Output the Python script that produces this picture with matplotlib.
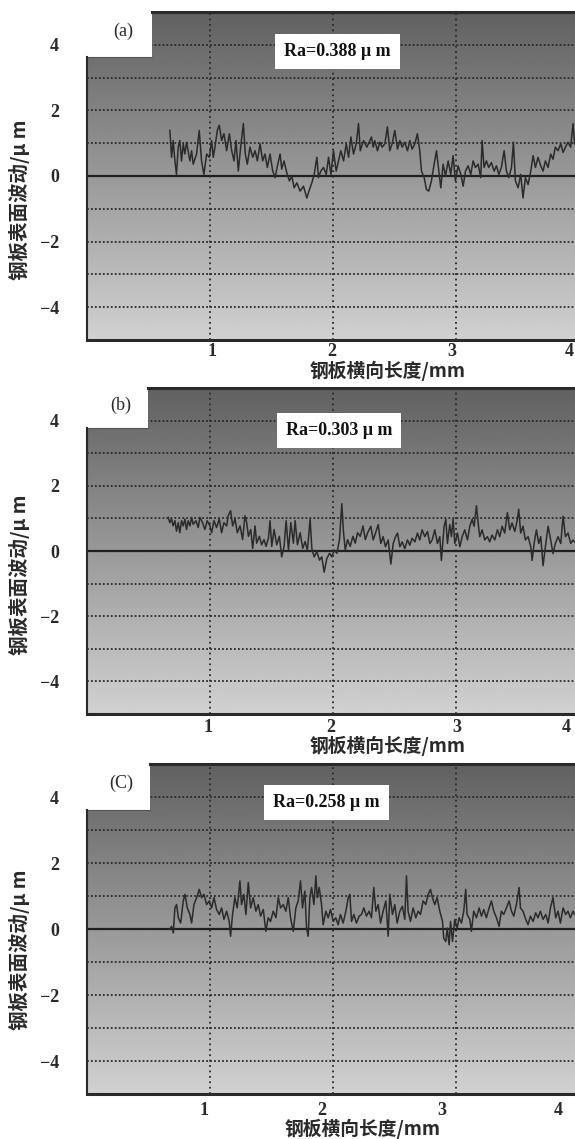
import numpy as np
import matplotlib
matplotlib.use("Agg")
import matplotlib.pyplot as plt
from matplotlib.patches import Rectangle

# ---------------- data (x in mm, y in µm) ----------------
xa = [0.674, 0.688, 0.701, 0.715, 0.728, 0.742, 0.755, 0.769, 0.783, 0.796, 0.810, 0.837, 0.851, 0.864,
      0.891, 0.913, 0.932, 0.951, 0.973, 0.995, 1.014, 1.027, 1.041, 1.060, 1.076, 1.095, 1.114, 1.136,
      1.158, 1.177, 1.196, 1.212, 1.231, 1.250, 1.272, 1.288, 1.304, 1.326, 1.348, 1.367, 1.386, 1.408,
      1.429, 1.448, 1.467, 1.489, 1.511, 1.530, 1.549, 1.571, 1.584, 1.603, 1.625, 1.647, 1.666, 1.685,
      1.707, 1.734, 1.761, 1.788, 1.810, 1.829, 1.848, 1.870, 1.883, 1.902, 1.924, 1.946, 1.965, 1.984,
      2.005, 2.027, 2.046, 2.065, 2.087, 2.109, 2.128, 2.147, 2.168, 2.190, 2.209, 2.223, 2.250, 2.277,
      2.314, 2.328, 2.341, 2.363, 2.382, 2.401, 2.423, 2.444, 2.463, 2.482, 2.504, 2.526, 2.545, 2.564,
      2.585, 2.607, 2.626, 2.645, 2.667, 2.688, 2.707, 2.721, 2.743, 2.761, 2.780, 2.802, 2.824, 2.843,
      2.862, 2.878, 2.897, 2.916, 2.938, 2.959, 2.978, 2.997, 3.019, 3.041, 3.060, 3.079, 3.100, 3.122,
      3.141, 3.160, 3.182, 3.203, 3.214, 3.230, 3.249, 3.268, 3.290, 3.312, 3.331, 3.350, 3.371, 3.393,
      3.412, 3.431, 3.453, 3.469, 3.485, 3.507, 3.528, 3.547, 3.566, 3.588, 3.610, 3.629, 3.648, 3.669,
      3.691, 3.710, 3.729, 3.751, 3.772, 3.791, 3.810, 3.832, 3.854, 3.873, 3.892, 3.913, 3.935, 3.954,
      3.967]
ya = [1.39, 0.57, 1.08, 0.46, 0.05, 0.88, 1.08, 0.46, 0.98, 0.67, 1.03, 0.46, 0.77, 0.36,
      0.67, 1.39, 0.46, 0.05, 0.67, 0.57, 1.08, 0.57, 0.88, 1.39, 1.55, 1.08, 1.29, 0.77,
      1.29, 0.77, 0.46, 1.08, 0.15, 0.88, 1.60, 0.67, 0.36, 0.88, 0.57, 0.77, 0.46, 0.98,
      0.46, 0.67, 0.26, 0.67, 0.15, -0.05, 0.31, 0.67, 0.21, 0.46, 0.10, -0.15, 0.00, -0.36,
      -0.21, -0.46, -0.31, -0.67, -0.41, -0.21, 0.05, 0.57, -0.05, 0.15, 0.26, 0.05, 0.57, 0.05,
      0.77, 0.15, 0.46, 0.77, 0.46, 0.98, 0.57, 1.19, 0.67, 0.98, 1.60, 0.77, 1.08, 0.88,
      1.19, 0.88, 1.08, 0.77, 1.03, 0.88, 0.98, 1.50, 0.77, 0.98, 1.39, 0.82, 1.08, 0.88,
      1.03, 0.77, 1.08, 0.82, 0.98, 1.29, 0.77, 0.15, -0.05, -0.41, -0.46, -0.15, 0.36, 0.77,
      0.15, -0.36, 0.36, 0.00, 0.46, 0.05, 0.62, -0.15, 0.31, 0.05, -0.31, 0.15, 0.31, 0.05,
      0.46, 0.26, 0.36, -0.05, 1.08, 0.26, 0.46, 0.26, 0.41, 0.15, 0.31, 0.05, 0.26, 0.77,
      0.15, -0.05, 0.26, 1.03, -0.15, -0.36, 0.05, -0.67, -0.05, -0.26, 0.15, 0.62, 0.26, 0.57,
      0.31, 0.15, 0.46, 0.26, 0.67, 0.51, 0.88, 0.77, 0.98, 0.72, 0.88, 1.03, 0.88, 1.60,
      0.98]

xb = [0.660, 0.674, 0.688, 0.701, 0.715, 0.728, 0.742, 0.755, 0.769, 0.783, 0.796, 0.810, 0.823, 0.837,
      0.851, 0.864, 0.886, 0.905, 0.918, 0.940, 0.959, 0.978, 1.000, 1.014, 1.033, 1.054, 1.076, 1.095,
      1.114, 1.136, 1.149, 1.168, 1.185, 1.204, 1.223, 1.245, 1.266, 1.285, 1.299, 1.313, 1.332, 1.348,
      1.367, 1.380, 1.402, 1.421, 1.440, 1.457, 1.476, 1.489, 1.503, 1.522, 1.543, 1.565, 1.584, 1.603,
      1.620, 1.639, 1.658, 1.679, 1.693, 1.712, 1.734, 1.755, 1.774, 1.793, 1.815, 1.829, 1.848, 1.870,
      1.891, 1.910, 1.929, 1.951, 1.973, 1.992, 2.011, 2.033, 2.054, 2.073, 2.087, 2.101, 2.120, 2.141,
      2.163, 2.182, 2.201, 2.223, 2.245, 2.264, 2.283,
      2.309, 2.328, 2.347, 2.369, 2.390, 2.409, 2.428, 2.450, 2.472, 2.491, 2.510, 2.526, 2.545, 2.564,
      2.585, 2.607, 2.626, 2.645, 2.667, 2.688, 2.707, 2.726, 2.748, 2.770, 2.789, 2.808, 2.829, 2.851,
      2.870, 2.883, 2.905, 2.919, 2.932, 2.951, 2.965, 2.978, 2.992, 3.014, 3.033, 3.052, 3.073, 3.095,
      3.114, 3.133, 3.149, 3.168, 3.182, 3.195, 3.214, 3.236, 3.257, 3.276, 3.295, 3.317, 3.339, 3.358,
      3.377, 3.398, 3.420, 3.439, 3.458, 3.480, 3.501, 3.512, 3.528, 3.547, 3.566, 3.588, 3.610, 3.621,
      3.637, 3.656, 3.675, 3.691, 3.710, 3.729, 3.751, 3.772, 3.791, 3.810, 3.832, 3.854, 3.873, 3.892,
      3.913, 3.935, 3.954, 3.967]
yb = [1.03, 0.87, 0.98, 0.77, 0.93, 0.61, 0.87, 0.56, 0.93, 0.77, 0.98, 0.66, 0.93, 0.77,
      1.03, 0.82, 0.93, 0.72, 1.03, 0.87, 0.66, 0.93, 0.77, 0.56, 0.93, 0.72, 0.98, 0.56,
      0.87, 0.77, 1.08, 1.24, 0.77, 0.98, 0.56, 0.77, 0.35, 1.08, 0.87, 0.45, 0.66, 0.08,
      0.77, 0.24, 0.45, 0.19, 0.35, 0.14, 0.40, 0.93, 0.14, 0.66, 0.19, 0.45, -0.18, 0.14,
      0.93, 0.03, 0.87, 0.24, 0.93, 0.19, 0.56, 0.08, 0.29, 0.03, 0.98, 0.08, -0.18, -0.02,
      -0.28, -0.18, -0.65, -0.23, -0.07, -0.18, 0.03, -0.07, 0.35, 1.45, 0.56, 0.03, 0.35, 0.14,
      0.45, 0.24, 0.56, 0.45, 0.77, 0.35, 0.56,
      0.76, 0.34, 0.55, 0.81, 0.23, 0.44, 0.13, 0.34, -0.40, 0.23, 0.44, 0.55, 0.13, 0.28,
      0.07, 0.34, 0.18, 0.39, 0.28, 0.55, 0.34, 0.65, 0.44, 0.60, 0.23, 0.34, 0.65, 0.23,
      0.44, -0.29, 0.76, 0.97, 0.23, 0.81, 0.44, 0.97, 0.23, 0.55, 0.13, 0.44, 0.65, 0.34,
      0.76, 0.97, 0.76, 1.39, 0.86, 0.44, 0.65, 0.34, 0.44, 0.28, 0.49, 0.34, 0.65, 0.44,
      0.76, 0.55, 1.18, 0.65, 0.86, 0.60, 0.97, 1.28, 0.55, 0.76, 0.34, 0.44, 0.13, -0.29,
      0.23, 0.65, 0.23, 0.44, -0.45, 0.13, 0.76, 0.34, -0.08, 0.23, 0.44, 0.23, 1.07, 0.44,
      0.55, 0.23, 0.34, 0.28]

xc = [0.675, 0.688, 0.702, 0.715, 0.729, 0.743, 0.762, 0.783, 0.797, 0.816, 0.837, 0.851, 0.870, 0.892,
      0.913, 0.932, 0.951, 0.973, 0.995, 1.014, 1.033, 1.054, 1.076, 1.095, 1.114, 1.136, 1.157, 1.168,
      1.184, 1.203, 1.222, 1.244, 1.257, 1.276, 1.293, 1.312, 1.331, 1.352, 1.374, 1.393, 1.412, 1.434,
      1.455, 1.474, 1.493, 1.515, 1.537, 1.556, 1.575, 1.596, 1.618, 1.637, 1.656, 1.678, 1.699, 1.718,
      1.737, 1.753, 1.772, 1.786, 1.799, 1.813, 1.827, 1.846, 1.862, 1.873, 1.889, 1.908, 1.921, 1.943,
      1.962, 1.981, 2.003, 2.024, 2.043, 2.062, 2.084, 2.106, 2.125, 2.138, 2.152, 2.171, 2.192, 2.214,
      2.233, 2.252, 2.274, 2.295, 2.314, 2.333, 2.350, 2.369, 2.388, 2.409, 2.431, 2.450, 2.463, 2.485,
      2.504, 2.523, 2.545, 2.566, 2.585, 2.599, 2.612, 2.631, 2.653, 2.675, 2.694, 2.713, 2.734, 2.756,
      2.775, 2.794, 2.810, 2.829, 2.848, 2.870, 2.892, 2.902, 2.919, 2.930, 2.946, 2.957, 2.973, 2.992,
      3.011, 3.027, 3.046, 3.065, 3.081, 3.092, 3.114, 3.127, 3.146, 3.168, 3.190, 3.209, 3.228, 3.249,
      3.271, 3.290, 3.309, 3.331, 3.352, 3.371, 3.390, 3.412, 3.434, 3.453, 3.472, 3.493, 3.515, 3.526,
      3.547, 3.569, 3.588, 3.607, 3.629, 3.650, 3.669, 3.688, 3.710, 3.732, 3.751, 3.770, 3.791, 3.813,
      3.832, 3.851, 3.873, 3.894, 3.913, 3.932, 3.954, 3.967]
yc = [0.00, 0.08, -0.12, 0.64, 0.74, 0.34, 0.18, 0.85, 1.05, 0.64, 0.44, 0.18, 0.74, 0.95,
      1.20, 0.95, 1.05, 0.74, 0.85, 0.64, 0.95, 0.59, 0.44, 0.64, 0.29, 0.54, 0.23, -0.22,
      0.44, 0.95, 0.64, 1.46, 0.74, 1.05, 0.44, 1.41, 0.64, 0.95, 0.54, 0.74, 0.39, 0.59,
      -0.07, 0.34, 0.23, 0.54, 0.34, 0.95, 0.64, 0.74, 0.54, 0.95, 0.34, -0.07, 0.64, 0.85,
      1.46, 0.64, 1.15, 0.03, -0.22, 0.95, 1.26, 0.74, 1.61, 0.95, 1.26, 0.74, 0.13, 0.54,
      0.34, 0.59, 0.23, 0.34, 0.13, 0.44, 0.18, 0.54, 0.95, 1.05, 0.23, 0.44, 0.18, 0.39,
      0.44, 0.64, 0.39, 0.54, 0.34, 1.26, 0.54, 0.74, 0.18, 0.54, 0.85, -0.22, 1.05, 0.44,
      0.74, 0.18, 0.54, 0.69, 0.29, 1.61, 0.54, 0.23, 0.64, 0.34, 0.54, 0.44, 0.85, 0.74,
      1.05, 1.20, 0.95, 0.74, 0.95, 0.54, 0.23, -0.28, -0.38, 0.03, -0.48, 0.23, -0.38, 0.29,
      0.03, 0.34, 0.18, 0.54, 1.20, 0.44, 0.29, -0.07, 0.54, 0.34, 0.64, 0.39, 0.59, 0.34,
      0.64, 0.85, 0.54, 0.34, 0.08, 0.54, 0.44, 0.64, 0.85, 0.54, 0.39, 0.74, 1.26, 0.64,
      0.54, 0.29, 0.13, 0.39, 0.23, 0.49, 0.34, 0.54, 0.29, 0.44, 0.18, 0.64, 0.95, 0.34,
      0.54, 0.18, 0.64, 0.44, 0.54, 0.34, 0.54, 0.44]

panel_tags = ["(a)", "(b)", "(C)"]
ra_texts = ["Ra=0.388 μ m", "Ra=0.303 μ m", "Ra=0.258 μ m"]
xtick_vals = [1, 2, 3, 4]
ytick_vals = [4, 2, 0, -2, -4]
ytick_labels = ["4", "2", "0", "−2", "−4"]
xlabel_text = "钢板横向长度/mm"
ylabel_text = "钢板表面波动/μ m"

series = [(xa, ya), (xb, yb), (xc, yc)]

# ---------------- layout ----------------
W, H = 575, 1139
fig = plt.figure(figsize=(W / 100, H / 100), dpi=100)
fig.patch.set_facecolor("white")

XMAX = 4.1
left_px = 87
width_px = 504
rows = [(12, 340), (388, 714), (764, 1094)]
notch = [(0.53, 3.63), (0.50, 3.76), (0.51, 3.60)]
ra_pos = [(2.04, 3.80), (2.05, 3.70), (1.95, 3.82)]
xlabel_x = [388, 388, 363]
xlabel_dy = [31, 32, 35]
ylabel_cy = [200, 575, 950]
# horizontal shift (px) of each x tick label, as printed in the scanned figure
xlab_shift = [[2, -1, -4, -9], [-2, -2, 1, -12], [-6, -11, -14, -20]]
xlab_drop = [2.5, 3.5, 6.0]

cjk = ["Noto Sans CJK SC", "DejaVu Sans"]
serif = ["Liberation Serif", "DejaVu Serif"]
ink = "#2a2a2a"

for i, (top, bot) in enumerate(rows):
    ax = fig.add_axes([left_px / W, 1 - bot / H, width_px / W, (bot - top) / H])

    # gradient background: dark at top, light at bottom
    grad = np.linspace(0.38, 0.82, 256).reshape(-1, 1)
    ax.imshow(grad, extent=[0, XMAX, -5, 5], origin="upper", aspect="auto",
              cmap="gray", vmin=0, vmax=1, zorder=0, interpolation="bilinear")
    ax.set_xlim(0, XMAX)
    ax.set_ylim(-5, 5)

    # grid
    for gy in [-4, -3, -2, -1, 1, 2, 3, 4]:
        ax.axhline(gy, color="#2a2a2a", lw=1.3, ls=(0, (1, 1.2)), zorder=1)
    for gx in [1, 2, 3]:
        ax.axvline(gx, color="#2a2a2a", lw=1.3, ls=(0, (1, 2)), zorder=1)
    ax.axhline(0, color="#202020", lw=1.6, zorder=2)

    # data
    x, y = series[i]
    ax.plot(x, y, color="#2b2b2b", lw=1.1, zorder=3)

    # white notch at top-left
    nx, ny = notch[i]
    ax.add_patch(Rectangle((-0.01, ny), nx + 0.01, 5.5 - ny, facecolor="white",
                           edgecolor="none", zorder=4, clip_on=False))
    ax.plot([0, nx], [ny, ny], color="#555555", lw=0.8, zorder=5, clip_on=False)

    # spines
    ax.spines["right"].set_visible(False)
    ax.spines["left"].set_bounds(-5, ny)
    ax.spines["left"].set_linewidth(1.5)
    ax.spines["left"].set_color(ink)
    ax.spines["top"].set_bounds(nx, XMAX)
    ax.spines["top"].set_linewidth(2.2)
    ax.spines["top"].set_color(ink)
    ax.spines["bottom"].set_linewidth(2.2)
    ax.spines["bottom"].set_color(ink)
    for s in ax.spines.values():
        s.set_zorder(6)

    # ticks: x labels drawn as annotations at the tick positions
    ax.set_xticks(xtick_vals)
    ax.set_xticklabels([""] * len(xtick_vals))
    for k, v in enumerate(xtick_vals):
        ax.annotate(str(v), xy=(v, 0), xycoords=("data", "axes fraction"),
                    xytext=(xlab_shift[i][k] * 0.72, -xlab_drop[i]),
                    textcoords="offset points", ha="center", va="top",
                    fontfamily=serif, fontsize=13, fontweight="bold", color=ink,
                    annotation_clip=False)
    ax.set_yticks(ytick_vals)
    ax.set_yticklabels(ytick_labels, fontfamily=serif, fontsize=13,
                       fontweight="bold", color=ink)
    ax.tick_params(axis="both", length=0)
    ax.tick_params(axis="y", pad=20)

    # panel tag
    ax.text(nx * 0.55, (ny + 5) / 2 + 0.1, panel_tags[i], fontfamily=serif,
            fontsize=13, color=ink, ha="center", va="center", zorder=7)

    # Ra box
    rx, ry = ra_pos[i]
    ax.text(rx, ry, ra_texts[i], fontfamily=serif, fontsize=13, fontweight="bold",
            color="#111111", ha="center", va="center", zorder=7,
            bbox=dict(boxstyle="square,pad=0.5", facecolor="white", edgecolor="none"))

    # axis labels
    fig.text(xlabel_x[i] / W, 1 - (bot + xlabel_dy[i]) / H, xlabel_text,
             fontfamily=cjk, fontsize=13.5, fontweight="bold", color=ink,
             ha="center", va="center")
    fig.text(20 / W, 1 - ylabel_cy[i] / H, ylabel_text, fontfamily=cjk,
             fontsize=14, fontweight="bold", color=ink, rotation=90,
             ha="center", va="center")

fig.savefig("out.png", dpi=100)
